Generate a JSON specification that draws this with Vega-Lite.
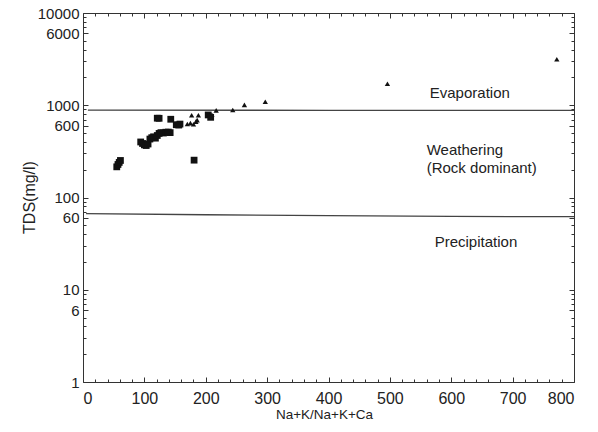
{
  "$schema": "https://vega.github.io/schema/vega-lite/v6.json",
  "autosize": {"type": "none"},
  "padding": {"left": 83, "top": 13, "right": 24, "bottom": 50},
  "width": 491,
  "height": 369,
  "background": "white",
  "config": {
    "view": {"stroke": "#333", "strokeWidth": 1},
    "font": "Liberation Sans",
    "axis": {"grid": false, "domain": false, "tickColor": "#333", "tickWidth": 1, "labelColor": "#222", "titleColor": "#222", "labelFont": "Liberation Sans", "titleFont": "Liberation Sans", "titleFontWeight": "normal"}
  },
  "datasets": {
    "lines": [
      {"series": "evap", "x": 8, "y": 885},
      {"series": "evap", "x": 400, "y": 882},
      {"series": "evap", "x": 800, "y": 880},
      {"series": "precip", "x": 5, "y": 67},
      {"series": "precip", "x": 200, "y": 65},
      {"series": "precip", "x": 400, "y": 63.5},
      {"series": "precip", "x": 600, "y": 62.3},
      {"series": "precip", "x": 800, "y": 62}
    ],
    "points": [
      {"type": "square", "x": 55, "y": 215},
      {"type": "square", "x": 57, "y": 228},
      {"type": "square", "x": 59, "y": 240},
      {"type": "square", "x": 61, "y": 252},
      {"type": "square", "x": 94, "y": 400},
      {"type": "square", "x": 97, "y": 385},
      {"type": "square", "x": 100, "y": 372},
      {"type": "square", "x": 103, "y": 366},
      {"type": "square", "x": 106, "y": 380},
      {"type": "square", "x": 109, "y": 430},
      {"type": "square", "x": 112, "y": 445},
      {"type": "square", "x": 115, "y": 455},
      {"type": "square", "x": 118, "y": 440},
      {"type": "square", "x": 121, "y": 470},
      {"type": "square", "x": 124, "y": 495},
      {"type": "square", "x": 127, "y": 505},
      {"type": "square", "x": 131, "y": 500},
      {"type": "square", "x": 135, "y": 510},
      {"type": "square", "x": 139, "y": 512},
      {"type": "square", "x": 142, "y": 505},
      {"type": "square", "x": 121, "y": 724},
      {"type": "square", "x": 124, "y": 722},
      {"type": "square", "x": 143, "y": 705},
      {"type": "square", "x": 152, "y": 615},
      {"type": "square", "x": 156, "y": 610},
      {"type": "square", "x": 158, "y": 625},
      {"type": "square", "x": 181, "y": 254},
      {"type": "square", "x": 204, "y": 785},
      {"type": "square", "x": 208, "y": 740},
      {"type": "triangle", "x": 170, "y": 626},
      {"type": "triangle", "x": 175, "y": 640},
      {"type": "triangle", "x": 177, "y": 780},
      {"type": "triangle", "x": 180, "y": 622},
      {"type": "triangle", "x": 184, "y": 665},
      {"type": "triangle", "x": 186, "y": 690},
      {"type": "triangle", "x": 188, "y": 780},
      {"type": "triangle", "x": 206, "y": 770},
      {"type": "triangle", "x": 210, "y": 790},
      {"type": "triangle", "x": 217, "y": 880},
      {"type": "triangle", "x": 244, "y": 890},
      {"type": "triangle", "x": 263, "y": 1010},
      {"type": "triangle", "x": 297, "y": 1090},
      {"type": "triangle", "x": 496, "y": 1710},
      {"type": "triangle", "x": 772, "y": 3150}
    ],
    "labels": [
      {"text": "Evaporation", "x": 565, "y": 1368},
      {"text": "Weathering", "x": 560, "y": 327},
      {"text": "(Rock dominant)", "x": 560, "y": 210},
      {"text": "Precipitation", "x": 573, "y": 33.2}
    ]
  },
  "resolve": {"axis": {"x": "independent", "y": "independent"}},
  "layer": [
    {
      "data": {"name": "lines"},
      "transform": [{"filter": "datum.series === 'evap'"}],
      "mark": {"type": "line", "color": "#444", "strokeWidth": 1.3},
      "encoding": {
        "x": {"field": "x", "type": "quantitative", "scale": {"domain": [0, 800], "nice": false, "zero": false},
          "axis": {"orient": "bottom", "values": [0, 100, 200, 300, 400, 500, 600, 700, 800], "tickSize": -5, "labelPadding": 13, "labelFontSize": 16, "title": "Na+K/Na+K+Ca", "titleFontSize": 13.5, "titleX": 241, "titleY": 32, "titleBaseline": "middle", "titleAnchor": null}},
        "y": {"field": "y", "type": "quantitative", "scale": {"type": "log", "domain": [1, 10000], "nice": false},
          "axis": {"orient": "left", "values": [1, 6, 10, 60, 100, 600, 1000, 6000, 10000], "format": "d", "tickSize": -5, "labelPadding": 9, "labelFontSize": 15, "labelBaseline": "middle", "title": "TDS(mg/l)", "titleFontSize": 16, "titleX": -54, "titleY": 184, "titleAngle": -90, "titleBaseline": "middle", "titleAlign": "center"}}
      }
    },
    {
      "data": {"name": "lines"},
      "transform": [{"filter": "datum.series === 'precip'"}],
      "mark": {"type": "line", "color": "#444", "strokeWidth": 1.3},
      "encoding": {
        "x": {"field": "x", "type": "quantitative", "scale": {"domain": [0, 800], "nice": false, "zero": false},
          "axis": {"orient": "top", "values": [0, 100, 200, 300, 400, 500, 600, 700, 800], "tickSize": -5, "labels": false, "title": null}},
        "y": {"field": "y", "type": "quantitative", "scale": {"type": "log", "domain": [1, 10000], "nice": false},
          "axis": {"orient": "right", "values": [1, 6, 10, 60, 100, 600, 1000, 6000, 10000], "tickSize": -5, "labels": false, "title": null}}
      }
    },
    {
      "data": {"name": "points"},
      "mark": {"type": "point", "filled": true, "opacity": 1, "color": "#111"},
      "encoding": {
        "x": {"field": "x", "type": "quantitative", "scale": {"domain": [0, 800], "nice": false, "zero": false},
          "axis": {"orient": "bottom", "values": [20, 40, 60, 80, 120, 140, 160, 180, 220, 240, 260, 280, 320, 340, 360, 380, 420, 440, 460, 480, 520, 540, 560, 580, 620, 640, 660, 680, 720, 740, 760, 780], "tickSize": -3, "labels": false, "title": null}},
        "y": {"field": "y", "type": "quantitative", "scale": {"type": "log", "domain": [1, 10000], "nice": false},
          "axis": {"orient": "left", "values": [2, 3, 4, 5, 7, 8, 9, 20, 30, 40, 50, 70, 80, 90, 200, 300, 400, 500, 700, 800, 900, 2000, 3000, 4000, 5000, 7000, 8000, 9000], "tickSize": -3, "labels": false, "title": null}},
        "shape": {"field": "type", "type": "nominal", "scale": {"domain": ["square", "triangle"], "range": ["square", "triangle-up"]}, "legend": null},
        "size": {"field": "type", "type": "nominal", "scale": {"domain": ["square", "triangle"], "range": [46, 28]}, "legend": null}
      }
    },
    {
      "data": {"name": "labels"},
      "mark": {"type": "text", "align": "left", "baseline": "middle", "fontSize": 15, "color": "#222", "font": "Liberation Sans"},
      "encoding": {
        "x": {"field": "x", "type": "quantitative", "scale": {"domain": [0, 800], "nice": false, "zero": false},
          "axis": {"orient": "top", "values": [20, 40, 60, 80, 120, 140, 160, 180, 220, 240, 260, 280, 320, 340, 360, 380, 420, 440, 460, 480, 520, 540, 560, 580, 620, 640, 660, 680, 720, 740, 760, 780], "tickSize": -3, "labels": false, "title": null}},
        "y": {"field": "y", "type": "quantitative", "scale": {"type": "log", "domain": [1, 10000], "nice": false},
          "axis": {"orient": "right", "values": [2, 3, 4, 5, 7, 8, 9, 20, 30, 40, 50, 70, 80, 90, 200, 300, 400, 500, 700, 800, 900, 2000, 3000, 4000, 5000, 7000, 8000, 9000], "tickSize": -3, "labels": false, "title": null}},
        "text": {"field": "text", "type": "nominal"}
      }
    }
  ]
}
